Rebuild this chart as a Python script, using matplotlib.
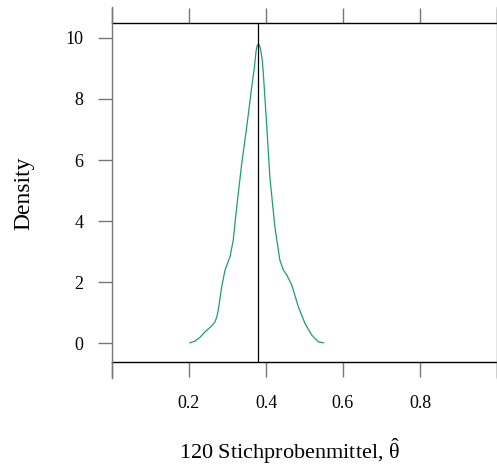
import numpy as np
import matplotlib
matplotlib.use("Agg")
import matplotlib.pyplot as plt

plt.rcParams['font.family'] = ['Liberation Serif', 'DejaVu Serif']
plt.rcParams['mathtext.fontset'] = 'custom'
plt.rcParams['mathtext.rm'] = 'Liberation Serif'
plt.rcParams['mathtext.it'] = 'Liberation Serif:italic'

# density of 120 sample means
theta = [0.2026, 0.215, 0.2286, 0.2416, 0.259, 0.2675, 0.272, 0.276, 0.285,
         0.2935, 0.3065, 0.315, 0.324, 0.337, 0.350, 0.363, 0.370, 0.374,
         0.377, 0.380, 0.383, 0.386, 0.390, 0.393, 0.402, 0.410, 0.423,
         0.436, 0.445, 0.454, 0.467, 0.484, 0.501, 0.519, 0.536, 0.549]
density = [0.01, 0.06, 0.19, 0.37, 0.56, 0.70, 0.85, 1.08, 1.85,
           2.39, 2.83, 3.38, 4.47, 5.89, 7.09, 8.40, 9.05, 9.55,
           9.75, 9.80, 9.76, 9.62, 9.30, 8.84, 7.09, 5.45, 3.81,
           2.72, 2.40, 2.23, 1.90, 1.19, 0.65, 0.26, 0.04, 0.01]
mean_theta = 0.378

xticks = [0.0, 0.2, 0.4, 0.6, 0.8, 1.0]
xlabels = ['', '0.2', '0.4', '0.6', '0.8', '']
yticks = [0, 2, 4, 6, 8, 10]

fig = plt.figure(figsize=(4.97, 4.66), dpi=100)
ax = fig.add_axes([112 / 497, 1 - 362 / 466, 385 / 497, 339 / 466])

ax.plot(theta, density, color='#1B9E77', lw=0.9)
ax.axvline(mean_theta, color='black', lw=0.9)

ax.set_xlim(0, 1)
ax.set_ylim(-0.62, 10.49)

for s in ax.spines.values():
    s.set_visible(False)
gray = '#777777'
ax.plot([0, 1], [1, 1], transform=ax.transAxes, color='black', lw=1, clip_on=False)
ax.plot([0, 1], [0, 0], transform=ax.transAxes, color='black', lw=1, clip_on=False)
ax.plot([0, 0], [-0.047, 1.047], transform=ax.transAxes, color=gray, lw=1, clip_on=False)
ax.plot([1, 1], [-0.047, 1.047], transform=ax.transAxes, color=gray, lw=1, clip_on=False)

ax.set_xticks(xticks)
ax.set_xticklabels(xlabels)
ax.set_yticks(yticks)
ax.tick_params(axis='x', which='both', top=True, bottom=True, direction='out',
               length=11, width=1, color=gray, pad=12.5, labelsize=13)
ax.tick_params(axis='y', which='both', left=True, right=False, direction='out',
               length=10, width=1, color=gray, pad=10.5, labelsize=13)

fig.text(290 / 497, 1 - 451 / 466, r'120 Stichprobenmittel, $\hat{\mathrm{\theta}}$',
         ha='center', va='center', fontsize=16)
fig.text(24 / 497, 1 - 193 / 466, 'Density', rotation=90,
         ha='center', va='center', fontsize=17)

fig.savefig('out.png', dpi=100)
